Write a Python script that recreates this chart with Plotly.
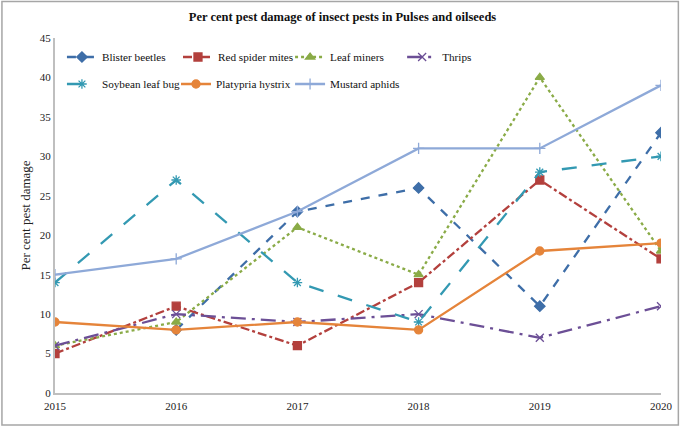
import plotly.graph_objects as go

years = [2015, 2016, 2017, 2018, 2019, 2020]
series_names = ["Blister beetles", "Red spider mites", "Leaf miners", "Thrips",
                "Soybean leaf bug", "Platypria hystrix", "Mustard aphids"]
blister_beetles = [None, 8, 23, 26, 11, 33]
red_spider_mites = [5, 11, 6, 14, 27, 17]
leaf_miners = [6, 9, 21, 15, 40, 18]
thrips = [6, 10, 9, 10, 7, 11]
soybean_leaf_bug = [14, 27, 14, 9, 28, 30]
platypria_hystrix = [9, 8, 9, 8, 18, 19]
mustard_aphids = [15, 17, 23, 31, 31, 39]
y_ticks = [0, 5, 10, 15, 20, 25, 30, 35, 40, 45]

values = [blister_beetles, red_spider_mites, leaf_miners, thrips,
          soybean_leaf_bug, platypria_hystrix, mustard_aphids]
colors = ["#3E6EA8", "#B3403D", "#8AAB47", "#6C4F96", "#3399B2", "#E5843A", "#8EA9D8"]
dashes = ["dash", "dashdot", "dot", "longdashdot", "longdash", "solid", "solid"]
symbols = ["diamond", "square", "triangle-up", "x-thin-open", "asterisk-open", "circle", "cross-thin-open"]
sizes = [8, 8, 8, 8, 8, 8, 8]

# legend text start (px) and row center (px) for each entry
leg_text_x = [104, 221, 334, 447, 104, 219, 334]
leg_row_y = [57, 57, 57, 57, 84, 84, 84]

font = "Liberation Serif, Times New Roman, serif"
W, H = 685, 427
ml, mr, mt, mb = 55, 19, 38, 34
pw, ph = W - ml - mr, H - mt - mb

def px(x):
    return (x - ml) / pw

def py(y):
    return (H - mb - y) / ph

fig = go.Figure()
legend_layouts = {}
for i, (name, vals, c, d, s, sz) in enumerate(zip(series_names, values, colors, dashes, symbols, sizes)):
    lg = "legend" if i == 0 else f"legend{i + 1}"
    fig.add_trace(go.Scatter(
        x=years, y=vals, name=name, mode="lines+markers",
        line=dict(color=c, width=2.3, dash=d),
        marker=dict(symbol=s, size=sz, color=c, line=dict(color=c, width=1.3)),
        legend=lg, connectgaps=False,
    ))
    legend_layouts[lg] = dict(
        orientation="h", xanchor="left", yanchor="middle",
        x=px(leg_text_x[i] - 42), y=py(leg_row_y[i]), itemwidth=30,
        font=dict(size=11.2, family=font, color="#111"), bgcolor="rgba(0,0,0,0)",
    )

fig.update_layout(
    width=W, height=H,
    margin=dict(l=ml, r=mr, t=mt, b=mb),
    paper_bgcolor="white", plot_bgcolor="white",
    font=dict(family=font, size=11, color="#222"),
    title=dict(text="<b>Per cent pest damage of insect pests in Pulses and oilseeds</b>",
               x=0.5, xanchor="center", y=1 - 17 / H, yanchor="middle",
               font=dict(size=12.5, family=font, color="#111")),
    xaxis=dict(range=[2015, 2020], tickvals=years, showgrid=False, zeroline=False,
               showline=True, linecolor="#BFBFBF", linewidth=2, ticks="",
               tickfont=dict(size=11, family=font), ticklabelstandoff=2),
    yaxis=dict(range=[0, 45], tickvals=y_ticks, showgrid=False, zeroline=False,
               showline=True, linecolor="#BFBFBF", linewidth=2, ticks="",
               title=dict(text="Per cent pest damage", font=dict(size=13, family=font), standoff=6),
               tickfont=dict(size=11, family=font)),
    showlegend=True,
    shapes=[dict(type="rect", xref="paper", yref="paper",
                 x0=px(1.5), x1=px(683.5), y0=py(425), y1=py(1.5),
                 line=dict(color="#A6A6A6", width=1.5), fillcolor="rgba(0,0,0,0)", layer="below")],
    **legend_layouts,
)
fig.write_html("out.html", config={"displayModeBar": False},
               post_script="document.body.style.margin='0';document.body.style.padding='0';")
